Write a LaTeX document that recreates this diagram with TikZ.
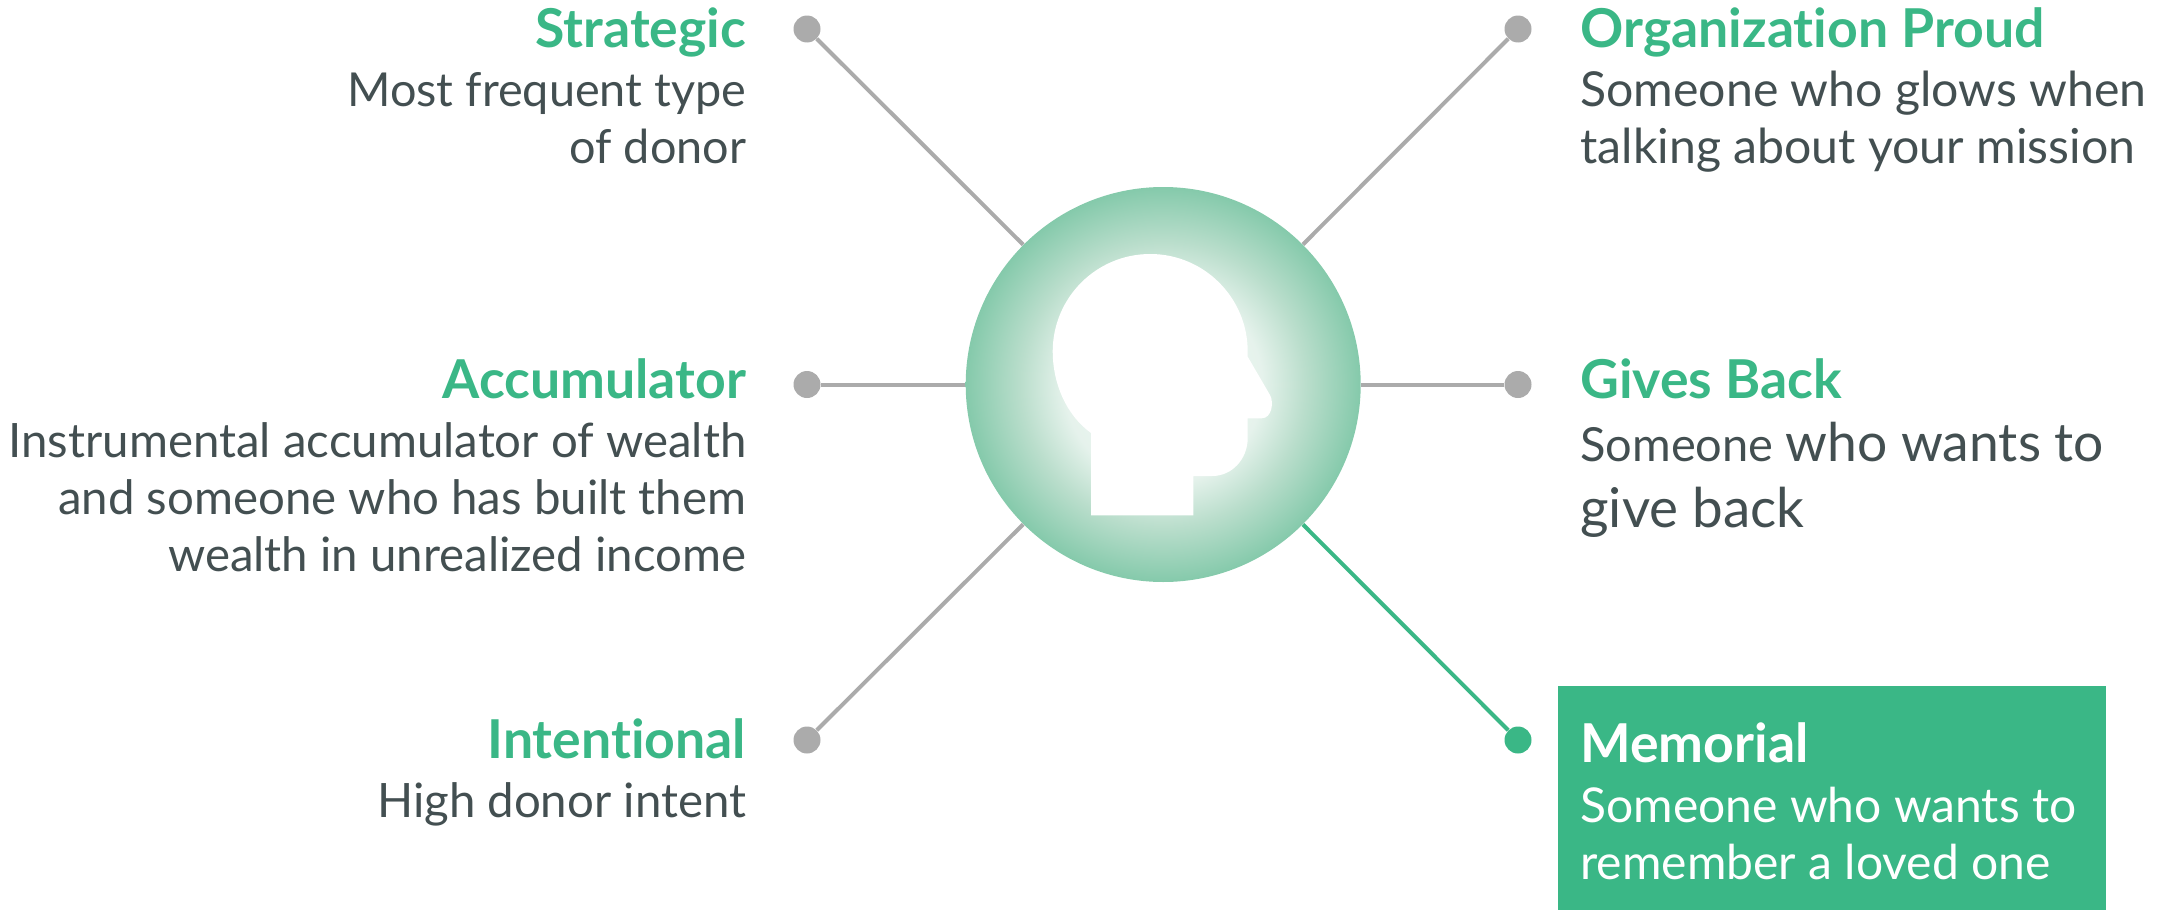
\documentclass[tikz,border=0pt]{standalone}
\usepackage{fontspec}
\setmainfont[RawFeature={-liga}]{Lato}
\definecolor{brand}{HTML}{3AB786}
\definecolor{ink}{HTML}{434F51}
\definecolor{wire}{HTML}{ABABAB}
\pgfdeclareradialshading{hubglow}{\pgfpoint{0bp}{0bp}}{
  rgb(0bp)=(0.95,0.98,0.965);
  rgb(12.5bp)=(0.90,0.95,0.925);
  rgb(18bp)=(0.73,0.87,0.80);
  rgb(25bp)=(0.52,0.79,0.67);
  rgb(50bp)=(0.52,0.79,0.67)}
\tikzset{
  hub/.style={circle,inner sep=0pt,minimum size=197.5pt,shade,shading=hubglow},
  dot/.style={circle,inner sep=0pt,minimum size=13.5pt,fill=wire},
  dotactive/.style={circle,inner sep=0pt,minimum size=13.5pt,fill=brand},
  wireline/.style={wire,line width=2pt},
  wireactive/.style={brand,line width=2pt},
  title/.style={inner sep=0pt,text=brand,font=\bfseries\fontsize{26.8}{30}\selectfont},
  bodyr/.style={inner sep=0pt,text=ink,align=right,font=\fontsize{#1}{28.5}\selectfont},
  bodyl/.style={inner sep=0pt,text=ink,align=left,font=\fontsize{#1}{28.5}\selectfont},
  panel/.style={fill=brand,draw=none,inner sep=0pt}
}
\begin{document}
\begin{tikzpicture}[x=0.5pt,y=-0.5pt]
\useasboundingbox (0,0) rectangle (2164,910);
\node[panel,minimum width=274pt,minimum height=112pt,anchor=north west] (box) at (1558,686) {};
\node[hub] (c) at (1163.2,384.5) {};
\node[dot] (d1) at (807,29) {};
\node[dot] (d2) at (807,384.5) {};
\node[dot] (d3) at (807,740) {};
\node[dot] (d4) at (1518,29) {};
\node[dot] (d5) at (1518,384.5) {};
\node[dotactive] (d6) at (1518,740) {};
\draw[wireline] (d1) -- (c);
\draw[wireline] (d2) -- (c);
\draw[wireline] (d3) -- (c);
\draw[wireline] (d4) -- (c);
\draw[wireline] (d5) -- (c);
\draw[wireactive] (d6) -- (c);
\fill[white] (1091,433) .. controls (1065.7,414.7) and (1052.7,382.7) .. (1052.7,351.5)
  .. controls (1052.7,297.65) and (1096.35,254) .. (1150.2,254)
  .. controls (1204.05,254) and (1247.7,297.65) .. (1247.7,351.5)
  -- (1247.7,356.7) -- (1270,395)
  .. controls (1274,402) and (1272,418.3) .. (1261.7,418.3)
  -- (1247.7,418.3) -- (1247.7,438)
  .. controls (1247.7,459) and (1232,476) .. (1212.3,476)
  -- (1193.3,476) -- (1193.3,515.3) -- (1091,515.3) -- cycle;
\node[title,anchor=base east] (t1) at (746.6,47) {Strategic};
\node[bodyr=23.4,anchor=base east] (b1) at (746.6,163) {Most frequent type\\of donor};
\node[title,anchor=base east] (t2) at (746.6,398) {Accumulator};
\node[bodyr=23.7,anchor=base east] (b2) at (746.6,571) {Instrumental accumulator of wealth\\and someone who has built them\\wealth in unrealized income};
\node[title,anchor=base east] (t3) at (746.6,758) {Intentional};
\node[bodyr=23.7,anchor=base east] (b3) at (746.6,817) {High donor intent};
\node[title,anchor=base west] (t4) at (1580,47) {Organization Proud};
\node[bodyl=24.1,anchor=base west] (b4) at (1580,163) {Someone who glows when\\talking about your mission};
\node[title,anchor=base west] (t5) at (1580,398) {Gives Back};
\node[bodyl=23.5,font=\fontsize{23.5}{33}\selectfont,anchor=base west] (b5) at (1580,527) {Someone {\fontsize{26.7}{33}\selectfont who wants to}\\{\fontsize{27.4}{33}\selectfont give back}};
\node[title,anchor=base west,text=white] (t6) at (1580,762) {Memorial};
\node[bodyl=24,anchor=base west,text=white] (b6) at (1580,879) {Someone who wants to\\remember a loved one};
\end{tikzpicture}
\end{document}
